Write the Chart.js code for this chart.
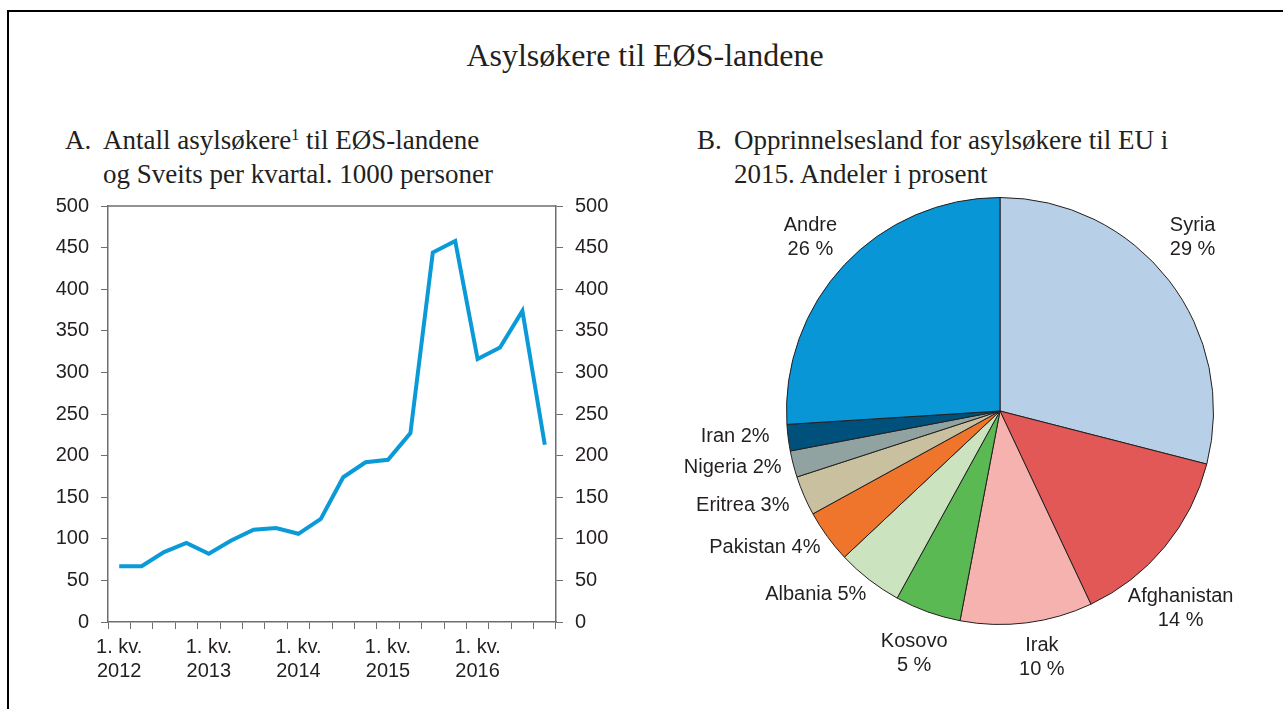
<!DOCTYPE html>
<html>
<head>
<meta charset="utf-8">
<script src="https://cdn.jsdelivr.net/npm/chart.js@4/dist/chart.umd.min.js"></script>
<style>
  html, body { margin:0; padding:0; background:#fff; }
  body { width:1283px; height:709px; position:relative; overflow:hidden; }
  #frame { position:absolute; left:7px; top:10px; width:1300px; height:720px; border-left:2px solid #000; border-top:2px solid #000; }
  .serif { font-family:"Liberation Serif","Times New Roman",serif; color:#231f20; position:absolute; white-space:nowrap; }
  #title { left:0; width:1290px; text-align:center; top:39px; font-size:32px; line-height:32px; }
  .sub { font-size:27px; line-height:34px; top:123px; }
  .sub sup { font-size:60%; line-height:0; vertical-align:0.55em; }
  #cA { position:absolute; left:0; top:182px; }
  #cB { position:absolute; left:660px; top:185px; }
</style>
</head>
<body>
<div id="frame"></div>
<div id="title" class="serif">Asylsøkere til EØS-landene</div>
<div class="serif sub" style="left:65px">A.</div>
<div class="serif sub" style="left:103px">Antall asylsøkere<sup>1</sup> til EØS-landene<br>og Sveits per kvartal. 1000 personer</div>
<div class="serif sub" style="left:697px">B.</div>
<div class="serif sub" style="left:734px">Opprinnelsesland for asylsøkere til EU i<br>2015. Andeler i prosent</div>
<canvas id="cA" width="640" height="518"></canvas>
<canvas id="cB" width="623" height="515"></canvas>
<script>
// ---- Data ----
const quarters = [
  "1. kv. 2012","2. kv. 2012","3. kv. 2012","4. kv. 2012",
  "1. kv. 2013","2. kv. 2013","3. kv. 2013","4. kv. 2013",
  "1. kv. 2014","2. kv. 2014","3. kv. 2014","4. kv. 2014",
  "1. kv. 2015","2. kv. 2015","3. kv. 2015","4. kv. 2015",
  "1. kv. 2016","2. kv. 2016","3. kv. 2016","4. kv. 2016"
];
const asylumSeekers = [67, 67, 84, 95, 82, 98, 111, 113, 106, 124, 174, 192, 195, 227, 444, 458, 316, 330, 374, 213];
const xTickLabels = [
  ["1. kv.","2012"], "", "", "",
  ["1. kv.","2013"], "", "", "",
  ["1. kv.","2014"], "", "", "",
  ["1. kv.","2015"], "", "", "",
  ["1. kv.","2016"], "", "", ""
];
const yTickValues = [0, 50, 100, 150, 200, 250, 300, 350, 400, 450, 500];

const origins = ["Syria","Afghanistan","Irak","Kosovo","Albania","Pakistan","Eritrea","Nigeria","Iran","Andre"];
const shares  = [29, 14, 10, 5, 5, 4, 3, 2, 2, 26];

// ---- Styles ----
const textColor = "#231f20";
const axisColor = "#6d6e71";
const lineColor = "#0a9ad8";
const sliceColors = ["#b8cfe8","#e15857","#f6b2af","#5bb953","#cbe3be","#ef752d","#c8c09e","#91a3a0","#00507c","#0996d6"];
const sans = "'Liberation Sans', Arial, sans-serif";
// label layout: position relative to pie centre in radius units; two-line labels are centred, one-line are right-aligned
const labelLayout = [
  {p:[0.902,-0.813], two:true},
  {p:[0.846, 0.925], two:true},
  {p:[0.196, 1.154], two:true},
  {p:[-0.402,1.136], two:true},
  {p:[-0.626,0.860], two:false},
  {p:[-0.841,0.640], two:false},
  {p:[-0.986,0.444], two:false},
  {p:[-1.023,0.266], two:false},
  {p:[-1.079,0.121], two:false},
  {p:[-0.888,-0.813], two:true}
];

const yAxisCommon = (pos, width) => ({
  position: pos,
  min: 0, max: 500,
  afterBuildTicks: s => { s.ticks = yTickValues.map(v => ({ value: v })); },
  afterFit: s => { s.width = width; },
  grid: { drawOnChartArea: false, drawTicks: true, tickLength: 7, color: axisColor, lineWidth: 1 },
  border: { display: true, color: axisColor, width: 1.5 },
  ticks: { color: textColor, padding: 12, font: { family: sans, size: 20 } }
});

const topLine = {
  id: 'topLine',
  afterDraw(chart) {
    const a = chart.chartArea, c = chart.ctx;
    c.save();
    c.strokeStyle = axisColor; c.lineWidth = 1.5;
    c.beginPath(); c.moveTo(a.left, a.top); c.lineTo(a.right, a.top); c.stroke();
    c.restore();
  }
};

new Chart(document.getElementById('cA'), {
  type: 'line',
  data: {
    labels: quarters,
    datasets: [{
      data: asylumSeekers,
      borderColor: lineColor,
      borderWidth: 4,
      pointRadius: 0,
      tension: 0,
      fill: false,
      borderJoinStyle: 'miter'
    }]
  },
  options: {
    responsive: false,
    animation: false,
    layout: { padding: { top: 0, left: 0, right: 0, bottom: 0 } },
    plugins: { legend: { display: false }, tooltip: { enabled: false } },
    scales: {
      x: {
        type: 'category',
        offset: true,
        afterFit: s => { s.height = 78; },
        grid: { offset: true, drawOnChartArea: false, drawTicks: true, tickLength: 7, color: axisColor, lineWidth: 1 },
        border: { display: true, color: axisColor, width: 1.5 },
        ticks: {
          autoSkip: false, maxRotation: 0, minRotation: 0, padding: 6,
          color: textColor, font: { family: sans, size: 20, lineHeight: 1.2 },
          callback: (v, i) => xTickLabels[i]
        }
      },
      y: yAxisCommon('left', 108),
      y2: yAxisCommon('right', 84)
    }
  },
  plugins: [topLine]
});

const pieLabels = {
  id: 'pieLabels',
  afterDraw(chart) {
    const arc = chart.getDatasetMeta(0).data[0];
    const cx = arc.x, cy = arc.y, r = arc.outerRadius;
    const c = chart.ctx;
    c.save();
    c.fillStyle = textColor;
    c.font = "20px " + sans;
    c.textBaseline = 'middle';
    origins.forEach((name, i) => {
      const L = labelLayout[i];
      const x = cx + L.p[0] * r, y = cy + L.p[1] * r;
      if (L.two) {
        c.textAlign = 'center';
        c.fillText(name, x, y - 12);
        c.fillText(shares[i] + " %", x, y + 12);
      } else {
        c.textAlign = 'right';
        c.fillText(name + " " + shares[i] + "%", x, y);
      }
    });
    c.restore();
  }
};

new Chart(document.getElementById('cB'), {
  type: 'pie',
  data: {
    labels: origins,
    datasets: [{
      data: shares,
      backgroundColor: sliceColors,
      borderColor: "#231f20",
      borderWidth: 1
    }]
  },
  options: {
    responsive: false,
    animation: false,
    layout: { padding: { left: 126, right: 69, top: 12, bottom: 75 } },
    plugins: { legend: { display: false }, tooltip: { enabled: false } }
  },
  plugins: [pieLabels]
});
</script>
</body>
</html>
